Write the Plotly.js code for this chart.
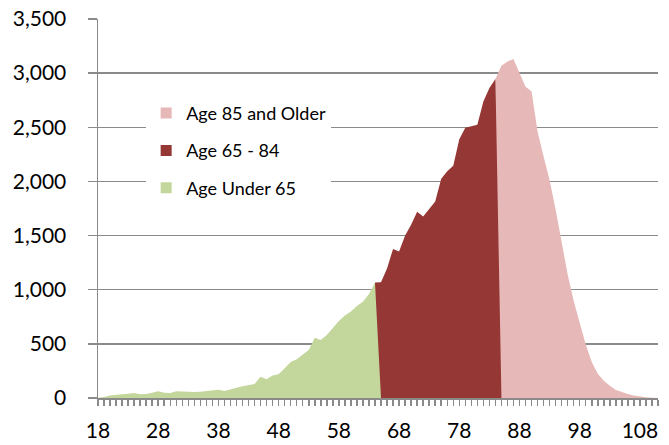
<!DOCTYPE html>
<html>
<head>
<meta charset="utf-8">
<script src="https://cdn.plot.ly/plotly-3.0.1.min.js"></script>
<style>
  html, body { margin: 0; padding: 0; background: #fff; }
  #chart { width: 669px; height: 445px; }
</style>
</head>
<body>
<div id="chart"></div>
<script>
// ages for each series (the last age of each series drops to zero)
var agesUnder65 = [18, 19, 20, 21, 22, 23, 24, 25, 26, 27, 28, 29, 30, 31, 32, 33, 34, 35, 36, 37,
  38, 39, 40, 41, 42, 43, 44, 45, 46, 47, 48, 49, 50, 51, 52, 53, 54, 55, 56, 57,
  58, 59, 60, 61, 62, 63, 64, 65];
var countUnder65 = [3, 9, 22, 31, 34, 40, 46, 34, 37, 49, 62, 49, 46, 62, 58, 55, 55, 58, 65, 68,
  77, 65, 83, 95, 108, 117, 129, 197, 173, 208, 219, 274, 333, 358, 404, 444, 557, 536, 582, 644,
  712, 761, 798, 850, 890, 961, 1066, 0];

var ages65to84 = [64, 65, 66, 67, 68, 69, 70, 71, 72, 73, 74, 75, 76, 77, 78, 79, 80, 81, 82, 83, 84, 85];
var count65to84 = [1066, 1069, 1195, 1377, 1352, 1500, 1600, 1720, 1676, 1745, 1814, 2025, 2095, 2144,
  2390, 2495, 2510, 2523, 2739, 2862, 2945, 0];

var ages85plus = [84, 85, 86, 87, 88, 89, 90, 91, 92, 93, 94, 95, 96, 97, 98, 99, 100,
  101, 102, 103, 104, 105, 106, 107, 108, 109, 110, 111];
var count85plus = [2945, 3068, 3108, 3130, 3001, 2875, 2833, 2460, 2230, 2010, 1740, 1430, 1140, 895,
  685, 495, 332, 225, 160, 112, 75, 52, 36, 22, 13, 7, 3, 1];

var seriesNames = ["Age 85 and Older", "Age 65 - 84", "Age Under 65"];
var seriesColors = ["#E6B9B8", "#953735", "#C3D69B"];

// every age gets a tick mark, only every tenth one a label
var tickAges = agesUnder65.slice(0, -1).concat(ages65to84.slice(1, -1), ages85plus.slice(1));
var tickLabels = tickAges.map((a) => ((a - 18) % 10 === 0 ? String(a) : ""));

var gridColor = "#8a8a8a";
var fontFamily = "Lato, 'Open Sans', sans-serif";

function areaTrace(x, y, color) {
  return {
    x: x,
    y: y,
    type: "scatter",
    mode: "lines",
    fill: "tozeroy",
    fillcolor: color,
    line: { width: 0, color: color },
    hoverinfo: "skip",
    showlegend: false,
  };
}

// square legend swatches like the original
function legendTrace(name, color) {
  return {
    x: [null],
    y: [null],
    type: "scatter",
    mode: "markers",
    name: name,
    legendgroup: name,
    marker: { symbol: "square", size: 11, color: color },
  };
}

var data = [
  areaTrace(ages85plus, count85plus, seriesColors[0]),
  areaTrace(ages65to84, count65to84, seriesColors[1]),
  areaTrace(agesUnder65, countUnder65, seriesColors[2]),
  legendTrace(seriesNames[0], seriesColors[0]),
  legendTrace(seriesNames[1], seriesColors[1]),
  legendTrace(seriesNames[2], seriesColors[2]),
];

var layout = {
  width: 669,
  height: 445,
  margin: { l: 98, r: 11, t: 19, b: 47 },
  paper_bgcolor: "#ffffff",
  plot_bgcolor: "#ffffff",
  font: { family: fontFamily, color: "#000000" },
  showlegend: true,
  legend: {
    x: 0.086,
    y: 0.8,
    xanchor: "left",
    yanchor: "top",
    bgcolor: "#ffffff",
    borderwidth: 0,
    font: { family: fontFamily, size: 18, color: "#000000" },
    tracegroupgap: 11,
    traceorder: "grouped",
  },
  xaxis: {
    range: [18, 111],
    tickmode: "array",
    tickvals: tickAges,
    ticktext: tickLabels,
    showgrid: false,
    zeroline: false,
    showline: true,
    linecolor: gridColor,
    linewidth: 1.5,
    ticks: "outside",
    ticklen: 6,
    tickwidth: 1.5,
    tickcolor: gridColor,
    ticklabelstandoff: 7,
    tickfont: { family: fontFamily, size: 21, color: "#000000" },
    fixedrange: true,
  },
  yaxis: {
    range: [0, 3500],
    dtick: 500,
    tickformat: ",d",
    showgrid: true,
    gridcolor: gridColor,
    gridwidth: 1.5,
    zeroline: false,
    showline: true,
    linecolor: gridColor,
    linewidth: 1.5,
    ticks: "outside",
    ticklen: 9,
    tickwidth: 1.5,
    tickcolor: gridColor,
    ticklabelstandoff: 17,
    tickfont: { family: fontFamily, size: 21, color: "#000000" },
    fixedrange: true,
  },
};

Plotly.newPlot("chart", data, layout, { displayModeBar: false, staticPlot: true });
</script>
</body>
</html>
